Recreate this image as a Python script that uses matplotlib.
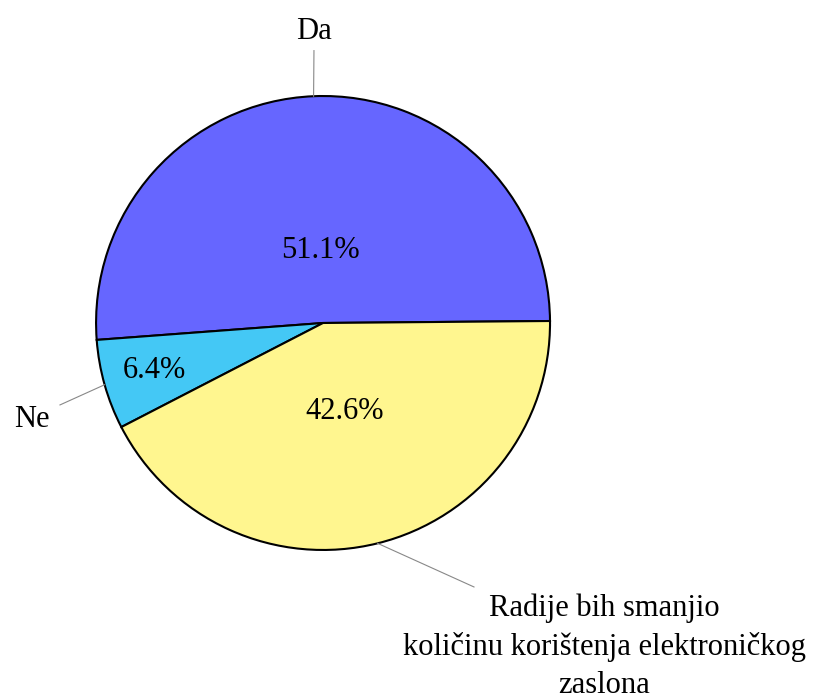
import numpy as np
import matplotlib.pyplot as plt

# data
labels = ['Da', 'Ne', 'Radije bih smanjio\nkoličinu korištenja elektroničkog\nzaslona']
shares = [51.1, 6.4, 42.6]
colors = ['#6666ff', '#44c8f5', '#fff68f']

plt.rcParams['font.family'] = ['Liberation Serif', 'DejaVu Serif']

fig = plt.figure(figsize=(8.22, 7), dpi=100)
ax = fig.add_axes([0, 0, 1, 1])

wedges, _ = ax.pie(shares, colors=colors, startangle=0.5, counterclock=True,
                   wedgeprops=dict(edgecolor='black', linewidth=1.5))

ax.set_xlim(-1.423, 2.198)
ax.set_ylim(-1.661, 1.423)
ax.set_aspect('equal')
ax.axis('off')

# percent labels: distance from centre per slice
pct_dist = [0.32, 0.77, 0.40]
for w, s, d in zip(wedges, shares, pct_dist):
    mid = np.deg2rad((w.theta1 + w.theta2) / 2)
    ax.text(d * np.cos(mid), d * np.sin(mid), f'{s}%', ha='center', va='center',
            fontsize=22)

# outside labels with leader lines
# (line end, text position, alignment)
label_layout = [
    ((-0.04, 1.20), (-0.04, 1.285), 'center', 'center'),
    ((-1.159, -0.361), (-1.205, -0.425), 'right', 'center'),
    ((0.665, -1.163), (1.24, -1.425), 'center', 'center'),
]
for w, lab, (end, tpos, ha, va) in zip(wedges, labels, label_layout):
    mid = np.deg2rad((w.theta1 + w.theta2) / 2)
    x0, y0 = np.cos(mid), np.sin(mid)
    ax.plot([x0, end[0]], [y0, end[1]], color='#888888', linewidth=0.8)
    ax.text(tpos[0], tpos[1], lab, ha=ha, va=va, fontsize=22, linespacing=1.4,
            multialignment='center')

fig.savefig('out.png', dpi=100)
